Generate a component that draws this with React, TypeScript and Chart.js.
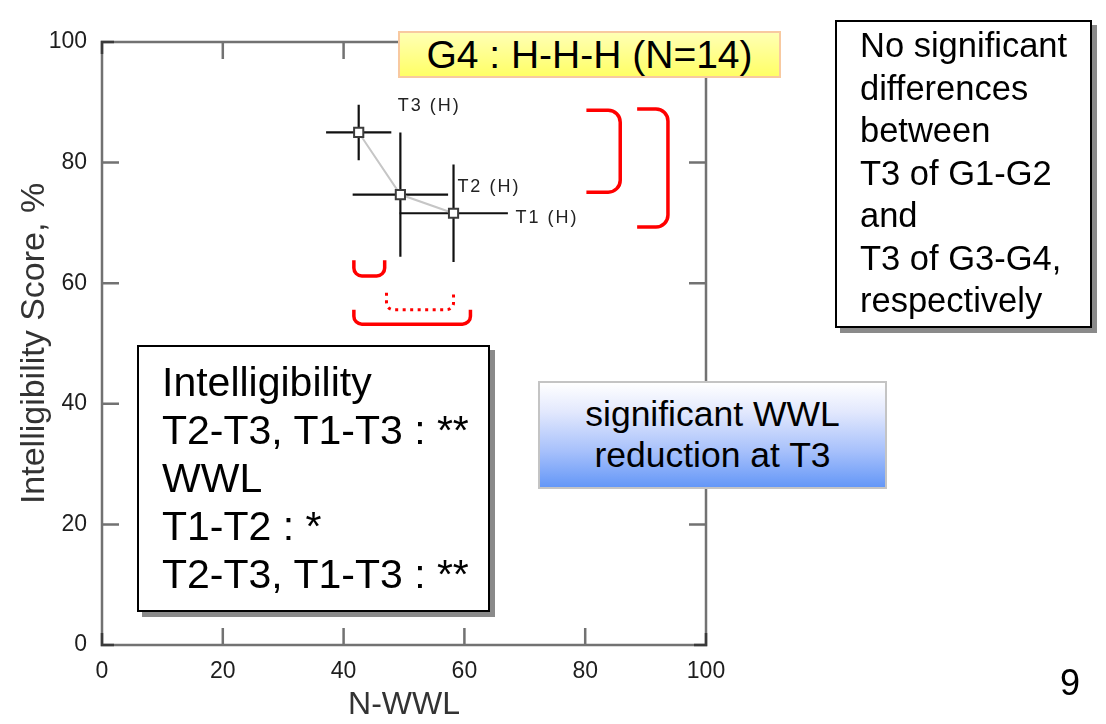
import React, { useEffect, useRef } from "react";
import { Chart, registerables } from "chart.js";

Chart.register(...registerables);

// ---- data ----
const pointLabels = ["T3 (H)", "T2 (H)", "T1 (H)"];
const nwwlValues = [42.5, 49.4, 58.2];
const intelligibilityValues = [85.0, 74.7, 71.6];
const nwwlErrors = [5.4, 7.9, 9.0];
const intelligibilityErrors = [4.6, 10.3, 8.1];
const axisTicks = [0, 20, 40, 60, 80, 100];

// label placement (pixel offsets from each point)
const labelOffsets = [
  [39, -26],
  [57, -8],
  [62, 5],
];

// red significance brackets, in data units: [xStart, xEnd, yStart, yEnd]
const rightBrackets = [
  [80.2, 85.8, 88.7, 75.1],
  [88.6, 93.7, 88.9, 69.3],
];
const bottomBrackets = [
  [41.7, 46.8, 63.8, 61.2],
  [41.7, 61.0, 55.6, 53.2],
];
const dottedBrackets = [[47.1, 58.2, 58.4, 55.6]];

const FONT = "'Liberation Sans', Arial, Helvetica, sans-serif";

const framePlugin = {
  id: "frameTicks",
  beforeDatasetsDraw(chart: any) {
    const { ctx, chartArea } = chart;
    const { left, right, top, bottom } = chartArea;
    const xs = chart.scales.x;
    const ys = chart.scales.y;
    ctx.save();
    ctx.strokeStyle = "#727272";
    ctx.lineWidth = 2.5;
    ctx.lineCap = "butt";
    ctx.strokeRect(left, top, right - left, bottom - top);
    const tl = 17;
    ctx.beginPath();
    axisTicks.slice(1, -1).forEach((v) => {
      const px = xs.getPixelForValue(v);
      ctx.moveTo(px, bottom);
      ctx.lineTo(px, bottom - tl);
      ctx.moveTo(px, top);
      ctx.lineTo(px, top + tl);
      const py = ys.getPixelForValue(v);
      ctx.moveTo(left, py);
      ctx.lineTo(left + tl, py);
      ctx.moveTo(right, py);
      ctx.lineTo(right - tl, py);
    });
    ctx.stroke();
    // darker corners
    ctx.strokeStyle = "#3a3a3a";
    ctx.lineWidth = 2.5;
    const c = 12;
    ctx.beginPath();
    ctx.moveTo(left, top + c); ctx.lineTo(left, top); ctx.lineTo(left + c, top);
    ctx.moveTo(left, bottom - c); ctx.lineTo(left, bottom); ctx.lineTo(left + c, bottom);
    ctx.moveTo(right, bottom - c); ctx.lineTo(right, bottom); ctx.lineTo(right - c, bottom);
    ctx.moveTo(right, top + c); ctx.lineTo(right, top); ctx.lineTo(right - c, top);
    ctx.stroke();

    // error bars
    ctx.strokeStyle = "#111111";
    ctx.lineWidth = 2.2;
    ctx.beginPath();
    nwwlValues.forEach((xv, i) => {
      const yv = intelligibilityValues[i];
      const px = xs.getPixelForValue(xv);
      const py = ys.getPixelForValue(yv);
      ctx.moveTo(xs.getPixelForValue(xv - nwwlErrors[i]), py);
      ctx.lineTo(xs.getPixelForValue(xv + nwwlErrors[i]), py);
      ctx.moveTo(px, ys.getPixelForValue(yv + intelligibilityErrors[i]));
      ctx.lineTo(px, ys.getPixelForValue(yv - intelligibilityErrors[i]));
    });
    ctx.stroke();
    ctx.restore();
  },
  afterDatasetsDraw(chart: any) {
    const { ctx } = chart;
    const xs = chart.scales.x;
    const ys = chart.scales.y;
    ctx.save();
    // point labels
    ctx.fillStyle = "#222";
    ctx.font = `18px ${FONT}`;
    try {
      (ctx as any).letterSpacing = "2px";
    } catch (e) {
      /* ignore */
    }
    ctx.textAlign = "left";
    ctx.textBaseline = "middle";
    pointLabels.forEach((t, i) => {
      const px = xs.getPixelForValue(nwwlValues[i]);
      const py = ys.getPixelForValue(intelligibilityValues[i]);
      ctx.fillText(t, px + labelOffsets[i][0], py + labelOffsets[i][1]);
    });
    try {
      (ctx as any).letterSpacing = "0px";
    } catch (e) {
      /* ignore */
    }

    // brackets
    ctx.strokeStyle = "#ff0000";
    ctx.lineWidth = 3.5;
    ctx.lineJoin = "round";
    ctx.lineCap = "butt";
    const r = 12;
    rightBrackets.forEach(([x0, x1, y0, y1]) => {
      const a = xs.getPixelForValue(x0);
      const b = xs.getPixelForValue(x1);
      const t = ys.getPixelForValue(y0);
      const bt = ys.getPixelForValue(y1);
      ctx.beginPath();
      ctx.moveTo(a, t);
      ctx.arcTo(b, t, b, bt, r);
      ctx.arcTo(b, bt, a, bt, r);
      ctx.lineTo(a, bt);
      ctx.stroke();
    });
    const drawU = (x0: number, x1: number, y0: number, y1: number, rr: number) => {
      const a = xs.getPixelForValue(x0);
      const b = xs.getPixelForValue(x1);
      const t = ys.getPixelForValue(y0);
      const bt = ys.getPixelForValue(y1);
      ctx.beginPath();
      ctx.moveTo(a, t);
      ctx.arcTo(a, bt, b, bt, rr);
      ctx.arcTo(b, bt, b, t, rr);
      ctx.lineTo(b, t);
      ctx.stroke();
    };
    bottomBrackets.forEach(([x0, x1, y0, y1]) => drawU(x0, x1, y0, y1, 8));
    ctx.setLineDash([3, 4.5]);
    ctx.lineWidth = 3;
    dottedBrackets.forEach(([x0, x1, y0, y1]) => drawU(x0, x1, y0, y1, 7));
    ctx.restore();
  },
};

export default function App() {
  const canvasRef = useRef<HTMLCanvasElement | null>(null);

  useEffect(() => {
    if (!canvasRef.current) return;
    const chart = new Chart(canvasRef.current, {
      type: "scatter",
      data: {
        datasets: [
          {
            label: "G4",
            data: nwwlValues.map((x, i) => ({ x, y: intelligibilityValues[i] })),
            showLine: true,
            borderColor: "#c6c6c6",
            borderWidth: 2,
            pointStyle: "rect",
            pointRadius: 6.5,
            pointBackgroundColor: "#ffffff",
            pointBorderColor: "#3c3c3c",
            pointBorderWidth: 2,
          },
        ],
      },
      options: {
        responsive: false,
        animation: false,
        events: [],
        layout: { padding: { left: 0, top: 42, right: 400, bottom: 0 } },
        plugins: {
          legend: { display: false },
          tooltip: { enabled: false },
          title: { display: false },
        },
        scales: {
          x: {
            type: "linear",
            min: 0,
            max: 100,
            afterBuildTicks: (s: any) => {
              s.ticks = axisTicks.map((v) => ({ value: v }));
            },
            afterFit: (s: any) => {
              s.height = 79;
            },
            grid: { display: false, drawTicks: false },
            border: { display: false },
            ticks: {
              color: "#1e1e1e",
              font: { family: FONT, size: 23 },
              padding: 13,
              maxRotation: 0,
            },
            title: {
              display: true,
              text: "N-WWL",
              color: "#333333",
              font: { family: FONT, size: 32 },
              padding: { top: 0, bottom: 0 },
            },
          },
          y: {
            type: "linear",
            min: 0,
            max: 100,
            afterBuildTicks: (s: any) => {
              s.ticks = axisTicks.map((v) => ({ value: v }));
            },
            afterFit: (s: any) => {
              s.width = 102;
            },
            grid: { display: false, drawTicks: false },
            border: { display: false },
            ticks: {
              color: "#1e1e1e",
              font: { family: FONT, size: 23 },
              padding: 15,
            },
            title: {
              display: true,
              text: "Intelligibility Score, %",
              color: "#333333",
              font: { family: FONT, size: 34 },
              padding: { top: 14, bottom: 0 },
            },
          },
        },
      },
      plugins: [framePlugin],
    });
    return () => chart.destroy();
  }, []);

  const boxFont: React.CSSProperties = { fontFamily: FONT, color: "#000", position: "absolute", boxSizing: "border-box" };

  return (
    <div style={{ position: "absolute", left: 0, top: 0, width: 1106, height: 724, background: "#fff", overflow: "hidden" }}>
      <canvas ref={canvasRef} width={1106} height={724} style={{ position: "absolute", left: 0, top: 0, width: 1106, height: 724 }} />
      <div
        style={{
          ...boxFont,
          left: 398,
          top: 31,
          width: 383,
          height: 47,
          border: "2px solid #f8c9a0",
          background: "linear-gradient(to bottom, #ffffb4 0%, #ffff66 100%)",
          fontSize: 39,
          lineHeight: "43px",
          textAlign: "center",
          whiteSpace: "nowrap",
        }}
      >
        G4 : H-H-H (N=14)
      </div>
      <div
        style={{
          ...boxFont,
          left: 835,
          top: 20,
          width: 257,
          height: 308,
          border: "2px solid #000",
          background: "#fff",
          boxShadow: "5px 5px 0 #8a8a8a",
          fontSize: 34.5,
          lineHeight: "42.5px",
          paddingLeft: 23,
          paddingTop: 2,
          whiteSpace: "nowrap",
        }}
      >
        No significant
        <br />
        differences
        <br />
        between
        <br />
        T3 of G1-G2
        <br />
        and
        <br />
        T3 of G3-G4,
        <br />
        respectively
      </div>
      <div
        style={{
          ...boxFont,
          left: 137,
          top: 345,
          width: 353,
          height: 267,
          border: "2px solid #000",
          background: "#fff",
          boxShadow: "5px 5px 0 #8a8a8a",
          fontSize: 41,
          lineHeight: "48px",
          paddingLeft: 23,
          paddingTop: 11,
          whiteSpace: "nowrap",
        }}
      >
        Intelligibility
        <br />
        T2-T3, T1-T3 : **
        <br />
        WWL
        <br />
        T1-T2 : *
        <br />
        T2-T3, T1-T3 : **
      </div>
      <div
        style={{
          ...boxFont,
          left: 538,
          top: 381,
          width: 349,
          height: 108,
          border: "2px solid #c4c4c4",
          background: "linear-gradient(to bottom, #ffffff 0%, #e2e8fd 28%, #a8c1fb 65%, #6497f7 100%)",
          fontSize: 35.5,
          lineHeight: "41px",
          textAlign: "center",
          paddingTop: 11,
          whiteSpace: "nowrap",
        }}
      >
        significant WWL
        <br />
        reduction at T3
      </div>
      <div style={{ ...boxFont, left: 1060, top: 662, fontSize: 36, lineHeight: "42px" }}>9</div>
    </div>
  );
}
